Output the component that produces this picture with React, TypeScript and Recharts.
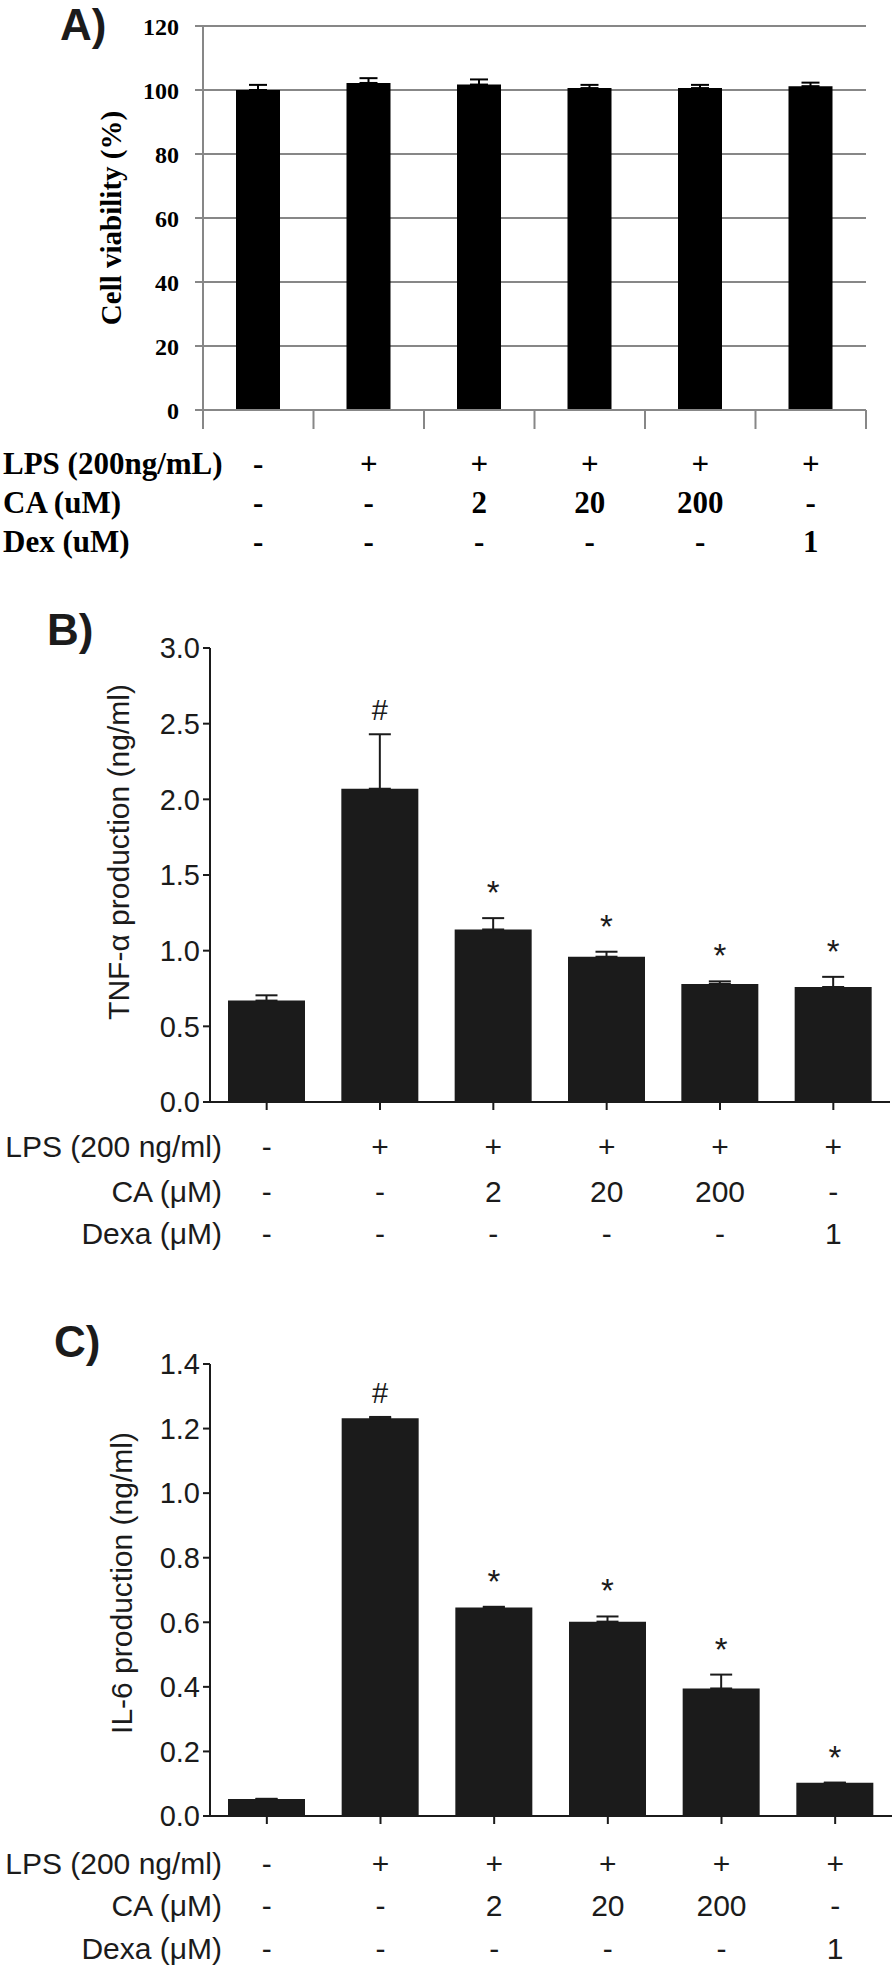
import React from 'react';
import { BarChart, Bar, XAxis, YAxis, CartesianGrid, ErrorBar, LabelList, Label } from 'recharts';

// treatment groups and the table under each chart
const groups = ['Control', 'LPS', 'LPS+CA 2', 'LPS+CA 20', 'LPS+CA 200', 'LPS+Dex 1'];
const lpsRow = ['-', '+', '+', '+', '+', '+'];
const caRow = ['-', '-', '2', '20', '200', '-'];
const dexRow = ['-', '-', '-', '-', '-', '1'];
const rowLabelsA = ['LPS (200ng/mL)', 'CA (uM)', 'Dex (uM)'];
const rowLabelsBC = ['LPS (200 ng/ml)', 'CA (\u03bcM)', 'Dexa (\u03bcM)'];

// A) cell viability (%)
const viability = [100, 102.2, 101.7, 100.6, 100.6, 101.2];
const viabilityErr = [1.6, 1.5, 1.6, 1.0, 1.0, 1.1];
const viabilityTicks = [0, 20, 40, 60, 80, 100, 120];

// B) TNF-alpha (ng/ml)
const tnf = [0.67, 2.07, 1.14, 0.96, 0.78, 0.76];
const tnfErr = [0.035, 0.36, 0.075, 0.033, 0.017, 0.067];
const tnfMarks = ['', '#', '*', '*', '*', '*'];
const tnfTicks = [0, 0.5, 1.0, 1.5, 2.0, 2.5, 3.0];

// C) IL-6 (ng/ml)
const il6 = [0.053, 1.232, 0.646, 0.602, 0.395, 0.103];
const il6Err = [0, 0.004, 0.002, 0.016, 0.043, 0];
const il6Marks = ['', '#', '*', '*', '*', '*'];
const il6Ticks = [0, 0.2, 0.4, 0.6, 0.8, 1.0, 1.2, 1.4];

const rows = [lpsRow, caRow, dexRow];

const toData = (vals: number[], errs: number[]) =>
  groups.map((g, i) => ({ group: g, value: vals[i], err: [0, errs[i]] }));

const viabilityData = toData(viability, viabilityErr);
const tnfData = toData(tnf, tnfErr);
const il6Data = toData(il6, il6Err);

const SERIF = '"Liberation Serif", "Times New Roman", serif';
const SANS = '"Liberation Sans", Arial, sans-serif';
const GRID = '#878787';
const INK = '#1b1b1b';

const A_PLOT_W = 663;
const A_ROWS = [53, 92, 131];

function ViabilityTick(props: any) {
  const { x, y, index } = props;
  const half = A_PLOT_W / groups.length / 2;
  return (
    <g>
      <line x1={x - half} y1={y} x2={x - half} y2={y + 19} stroke={GRID} strokeWidth={2} />
      {index === groups.length - 1 && (
        <line x1={x + half} y1={y} x2={x + half} y2={y + 19} stroke={GRID} strokeWidth={2} />
      )}
      {rows.map((row, r) => (
        <text key={r} x={x} y={y + A_ROWS[r]} dy="0.35em" textAnchor="middle"
          fontFamily={SERIF} fontWeight="bold" fontSize={31} fill="#000">
          {row[index]}
        </text>
      ))}
      {index === 0 &&
        rowLabelsA.map((l, r) => (
          <text key={'l' + r} x={3} y={y + A_ROWS[r]} dy="0.35em" textAnchor="start"
            fontFamily={SERIF} fontWeight="bold" fontSize={31} fill="#000">
            {l}
          </text>
        ))}
    </g>
  );
}

const makeTreatTick = (rowOffsets: number[]) => (props: any) => {
  const { x, y, index } = props;
  return (
    <g>
      <line x1={x} y1={y} x2={x} y2={y + 8} stroke={INK} strokeWidth={2} />
      {rows.map((row, r) => (
        <text key={r} x={x} y={y + rowOffsets[r]} dy="0.35em" textAnchor="middle"
          fontFamily={SANS} fontSize={30} fill={INK}>
          {row[index]}
        </text>
      ))}
      {index === 0 &&
        rowLabelsBC.map((l, r) => (
          <text key={'l' + r} x={222} y={y + rowOffsets[r]} dy="0.35em" textAnchor="end"
            fontFamily={SANS} fontSize={30} fill={INK}>
            {l}
          </text>
        ))}
    </g>
  );
};

const makeMark = (vals: number[], errs: number[], marks: string[]) => (props: any) => {
  const vb = props.viewBox || props;
  const x = vb.x ?? props.x;
  const y = vb.y ?? props.y;
  const width = vb.width ?? props.width;
  const height = vb.height ?? props.height;
  const i = props.index;
  const m = marks[i];
  if (!m) return null;
  const pxPerUnit = Math.abs(height) / vals[i];
  const capY = y - errs[i] * pxPerUnit;
  return (
    <text x={x + width / 2} y={capY - 14} textAnchor="middle" fontFamily={SANS}
      fontSize={m === '#' ? 29 : 33} fill={INK}>
      {m}
    </text>
  );
};

const yTitle = (text: string, cx: number, cy: number, font: any) => () => (
  <text x={cx} y={cy} transform={`rotate(-90 ${cx} ${cy})`} textAnchor="middle" dy="0.35em" {...font}>
    {text}
  </text>
);

function PanelLetter({ text, top, left }: { text: string; top: number; left: number }) {
  return (
    <div style={{ position: 'absolute', top, left, fontFamily: SANS, fontWeight: 'bold',
      fontSize: 44, lineHeight: '44px', color: INK }}>
      {text}
    </div>
  );
}

export default function App() {
  return (
    <div style={{ position: 'absolute', left: 0, top: 0, width: 896, height: 1967, background: '#fff' }}>
      <PanelLetter text="A)" top={3} left={60} />
      <PanelLetter text="B)" top={608} left={47} />
      <PanelLetter text="C)" top={1320} left={54} />

      <div style={{ position: 'absolute', left: 0, top: 0 }}>
        <BarChart width={896} height={570} data={viabilityData}
          margin={{ top: 26, right: 30, left: 123, bottom: 20 }}>
          <CartesianGrid vertical={false} stroke={GRID} strokeWidth={2} />
          <XAxis dataKey="group" height={140} interval={0} tickSize={0} tickMargin={0}
            tickLine={false} axisLine={{ stroke: GRID, strokeWidth: 2 }} tick={<ViabilityTick />} />
          <YAxis type="number" width={80} domain={[0, 120]} ticks={viabilityTicks} interval={0}
            tickSize={8} tickMargin={16}
            axisLine={{ stroke: GRID, strokeWidth: 2 }} tickLine={{ stroke: GRID, strokeWidth: 2 }}
            tick={{ fontFamily: SERIF, fontWeight: 'bold', fontSize: 24, fill: '#000' }}>
            <Label content={yTitle('Cell viability (%)', 111, 218,
              { fontFamily: SERIF, fontWeight: 'bold', fontSize: 29, fill: '#000' })} />
          </YAxis>
          <Bar dataKey="value" fill="#000" barSize={44} isAnimationActive={false}>
            <ErrorBar dataKey="err" direction="y" width={9} stroke="#000" strokeWidth={2} />
          </Bar>
        </BarChart>
      </div>

      <div style={{ position: 'absolute', left: 0, top: 600 }}>
        <BarChart width={896} height={660} data={tnfData}
          margin={{ top: 48, right: 6, left: 120, bottom: 18 }}>
          <XAxis dataKey="group" height={140} interval={0} tickSize={0} tickMargin={0}
            tickLine={false} axisLine={{ stroke: INK, strokeWidth: 2 }} tick={makeTreatTick([44, 89, 131])} />
          <YAxis type="number" width={90} domain={[0, 3]} ticks={tnfTicks} interval={0}
            tickSize={7} tickMargin={3} tickFormatter={(v: number) => v.toFixed(1)}
            axisLine={{ stroke: INK, strokeWidth: 2 }} tickLine={{ stroke: INK, strokeWidth: 2 }}
            tick={{ fontFamily: SANS, fontSize: 29, fill: INK }}>
            <Label content={yTitle('TNF-\u03b1 production (ng/ml)', 118, 252,
              { fontFamily: SANS, fontSize: 30, fill: INK })} />
          </YAxis>
          <Bar dataKey="value" fill={INK} barSize={77} isAnimationActive={false}>
            <ErrorBar dataKey="err" direction="y" width={11} stroke={INK} strokeWidth={2} />
            <LabelList dataKey="value" content={makeMark(tnf, tnfErr, tnfMarks)} />
          </Bar>
        </BarChart>
      </div>

      <div style={{ position: 'absolute', left: 0, top: 1300 }}>
        <BarChart width={896} height={667} data={il6Data}
          margin={{ top: 64, right: 4, left: 120, bottom: 11 }}>
          <XAxis dataKey="group" height={140} interval={0} tickSize={0} tickMargin={0}
            tickLine={false} axisLine={{ stroke: INK, strokeWidth: 2 }} tick={makeTreatTick([47, 89, 132])} />
          <YAxis type="number" width={90} domain={[0, 1.4]} ticks={il6Ticks} interval={0}
            tickSize={7} tickMargin={3} tickFormatter={(v: number) => v.toFixed(1)}
            axisLine={{ stroke: INK, strokeWidth: 2 }} tickLine={{ stroke: INK, strokeWidth: 2 }}
            tick={{ fontFamily: SANS, fontSize: 29, fill: INK }}>
            <Label content={yTitle('IL-6 production (ng/ml)', 121, 283,
              { fontFamily: SANS, fontSize: 30, fill: INK })} />
          </YAxis>
          <Bar dataKey="value" fill={INK} barSize={77} isAnimationActive={false}>
            <ErrorBar dataKey="err" direction="y" width={11} stroke={INK} strokeWidth={2} />
            <LabelList dataKey="value" content={makeMark(il6, il6Err, il6Marks)} />
          </Bar>
        </BarChart>
      </div>
    </div>
  );
}
